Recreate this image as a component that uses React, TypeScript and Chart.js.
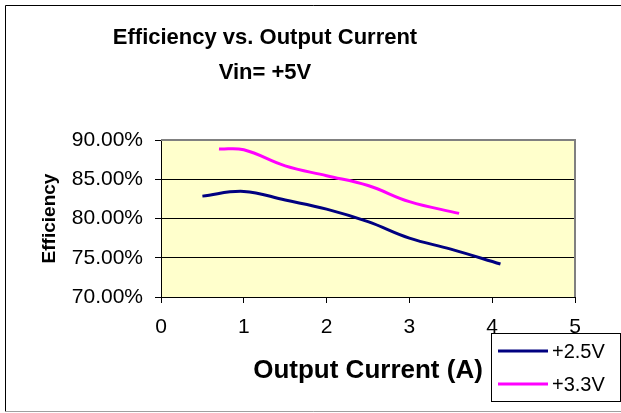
import React, { useEffect, useRef } from 'react';
import { Chart, registerables } from 'chart.js';

Chart.register(...registerables);

const FONT = "'Liberation Sans', Arial, Helvetica, sans-serif";

const TITLE_LINES = ['Efficiency vs. Output Current', 'Vin= +5V'];
const X_TITLE = 'Output Current (A)';
const Y_TITLE = 'Efficiency';

const SERIES_LABELS = ['+2.5V', '+3.3V'];
const SERIES_COLORS = ['#000080', '#FF00FF'];

const CURRENT_25 = [0.5, 1.0, 1.5, 2.0, 2.5, 3.0, 3.5, 4.1];
const EFF_25 = [82.85, 83.45, 82.35, 81.2, 79.6, 77.5, 76.1, 74.2];

const CURRENT_33 = [0.7, 1.0, 1.5, 2.0, 2.5, 3.0, 3.6];
const EFF_33 = [88.85, 88.75, 86.7, 85.45, 84.2, 82.15, 80.65];

const X_TICKS = [0, 1, 2, 3, 4, 5];
const Y_TICKS = [70, 75, 80, 85, 90];

const chromePlugin = {
  id: 'chrome',
  beforeDraw(chart: any) {
    const { ctx, chartArea: a } = chart;
    ctx.save();
    ctx.fillStyle = '#FFFFFF';
    ctx.fillRect(0, 0, chart.width, chart.height);
    ctx.fillStyle = '#FFFFCC';
    ctx.fillRect(a.left, a.top, a.right - a.left, a.bottom - a.top);
    // outer frame
    ctx.lineWidth = 1;
    ctx.strokeStyle = '#000000';
    ctx.beginPath();
    ctx.moveTo(5.5, chart.height - 1.5);
    ctx.lineTo(5.5, 5.5);
    ctx.lineTo(chart.width, 5.5);
    ctx.stroke();
    ctx.strokeStyle = '#A0A0A0';
    ctx.beginPath();
    ctx.moveTo(5.5, chart.height - 1.5);
    ctx.lineTo(chart.width, chart.height - 1.5);
    ctx.stroke();
    // title
    ctx.fillStyle = '#000000';
    ctx.font = `bold 22px ${FONT}`;
    ctx.textAlign = 'center';
    ctx.textBaseline = 'middle';
    ctx.fillText(TITLE_LINES[0], 265, 38);
    ctx.fillText(TITLE_LINES[1], 265, 73);
    ctx.restore();
  },
  beforeDatasetsDraw(chart: any) {
    const { ctx, chartArea: a } = chart;
    ctx.save();
    ctx.strokeStyle = '#808080';
    ctx.lineWidth = 2;
    ctx.beginPath();
    ctx.moveTo(a.left, a.top);
    ctx.lineTo(a.right, a.top);
    ctx.lineTo(a.right, a.bottom);
    ctx.stroke();
    ctx.restore();
  },
  afterDraw(chart: any) {
    const { ctx } = chart;
    ctx.save();
    const bx = 491.5, by = 333.5, bw = 129, bh = 68;
    ctx.fillStyle = '#FFFFFF';
    ctx.fillRect(bx, by, bw, bh);
    ctx.strokeStyle = '#000000';
    ctx.lineWidth = 1;
    ctx.strokeRect(bx, by, bw, bh);
    ctx.font = `20px ${FONT}`;
    ctx.textAlign = 'left';
    ctx.textBaseline = 'middle';
    chart.data.datasets.forEach((ds: any, i: number) => {
      const y = 351 + i * 33;
      ctx.strokeStyle = ds.borderColor;
      ctx.lineWidth = 3;
      ctx.beginPath();
      ctx.moveTo(498, y);
      ctx.lineTo(548, y);
      ctx.stroke();
      ctx.fillStyle = '#000000';
      ctx.fillText(ds.label, 552, y + 1);
    });
    ctx.restore();
  },
};

export default function App() {
  const ref = useRef<HTMLCanvasElement | null>(null);

  useEffect(() => {
    document.body.style.margin = '0';
    const canvas = ref.current;
    if (!canvas) return;
    const tickFont = { family: FONT, size: 21 };
    const chart = new Chart(canvas, {
      type: 'line',
      data: {
        datasets: [
          {
            label: SERIES_LABELS[0],
            data: CURRENT_25.map((x, i) => ({ x, y: EFF_25[i] })),
            borderColor: SERIES_COLORS[0],
            backgroundColor: SERIES_COLORS[0],
            borderWidth: 3,
            pointRadius: 0,
            tension: 0.4,
            fill: false,
          },
          {
            label: SERIES_LABELS[1],
            data: CURRENT_33.map((x, i) => ({ x, y: EFF_33[i] })),
            borderColor: SERIES_COLORS[1],
            backgroundColor: SERIES_COLORS[1],
            borderWidth: 3,
            pointRadius: 0,
            tension: 0.4,
            fill: false,
          },
        ],
      },
      options: {
        responsive: false,
        animation: false,
        devicePixelRatio: 1,
        layout: { padding: { left: 0, right: 46, top: 140, bottom: 0 } },
        plugins: {
          legend: { display: false },
          title: { display: false },
          tooltip: { enabled: false },
        },
        scales: {
          x: {
            type: 'linear',
            min: X_TICKS[0],
            max: X_TICKS[X_TICKS.length - 1],
            afterBuildTicks: (s: any) => {
              s.ticks = X_TICKS.map((v) => ({ value: v }));
            },
            afterFit: (s: any) => {
              s.height = 116;
            },
            ticks: { color: '#000', font: tickFont, padding: 12, maxRotation: 0 },
            grid: { drawOnChartArea: false, drawTicks: true, tickLength: 6, color: '#000', lineWidth: 1 },
            border: { color: '#000', width: 1 },
            title: {
              display: true,
              text: X_TITLE,
              color: '#000',
              font: { family: FONT, size: 26, weight: 'bold' },
              padding: { top: 0, bottom: 27 },
            },
          },
          y: {
            type: 'linear',
            min: Y_TICKS[0],
            max: Y_TICKS[Y_TICKS.length - 1],
            afterBuildTicks: (s: any) => {
              s.ticks = Y_TICKS.map((v) => ({ value: v }));
            },
            afterFit: (s: any) => {
              s.width = 161;
            },
            ticks: {
              color: '#000',
              font: tickFont,
              padding: 12,
              callback: (v: any) => Number(v).toFixed(2) + '%',
            },
            grid: { color: '#000', lineWidth: 1, tickLength: 6 },
            border: { color: '#000', width: 1 },
            title: {
              display: true,
              text: Y_TITLE,
              color: '#000',
              font: { family: FONT, size: 19, weight: 'bold' },
              padding: { top: 38, bottom: 0 },
            },
          },
        },
      },
      plugins: [chromePlugin],
    } as any);
    return () => chart.destroy();
  }, []);

  return (
    <div style={{ width: 621, height: 413 }}>
      <canvas ref={ref} width={621} height={413} style={{ display: 'block' }} />
    </div>
  );
}
